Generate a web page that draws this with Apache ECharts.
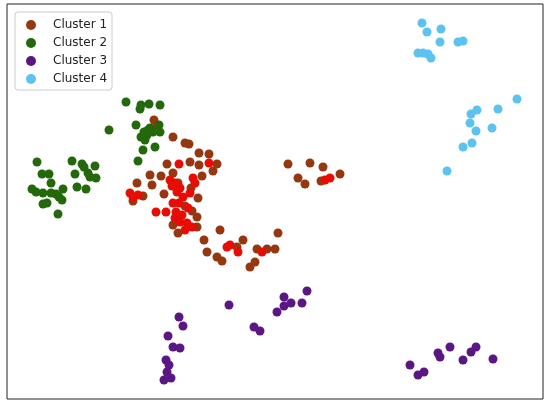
<!DOCTYPE html>
<html>
<head>
<meta charset="utf-8">
<script src="https://cdn.jsdelivr.net/npm/echarts@6/dist/echarts.min.js"></script>
<style>
  html, body { margin: 0; padding: 0; background: #fff; }
  #chart { width: 550px; height: 406px; }
</style>
</head>
<body>
<div id="chart"></div>
<script>
// values (x to the right, y downward)
var clusterNames = ['Cluster 1', 'Cluster 2', 'Cluster 3', 'Cluster 4'];

var cluster1Brown = [
  [173,137],[185,143],[189,144],[199,153],[209,154],[190,162],[199,165],[217,164],[213,171],[202,176],
  [167,164],[173,173],[150,175],[161,176],[178,183],[191,188],[137,183],[152,185],[143,196],[133,201],
  [164,194],[198,198],[185,206],[192,211],[197,217],[197,227],[173,225],[178,233],[220,230],[204,240],
  [207,252],[217,257],[222,261],[237,247],[243,240],[257,249],[267,249],[275,249],[278,233],[255,262],
  [250,267],[288,164],[310,163],[323,167],[298,178],[305,184],[321,181],[340,174],[154,120],[157,125]
];
var cluster1Red = [
  [209,163],[179,164],[170,180],[175,183],[180,188],[177,192],[193,178],[195,183],[190,193],[130,193],
  [133,197],[138,195],[173,203],[179,203],[188,208],[156,212],[166,212],[175,218],[180,222],[187,223],
  [192,227],[227,247],[230,245],[238,252],[262,252],[325,180],[330,178],[172,186],[183,197],[176,212],
  [182,215],[185,230]
];
var cluster2 = [
  [126,102],[141,105],[149,104],[160,105],[140,109],[109,130],[136,125],[144,132],[148,130],[153,132],
  [159,125],[147,135],[141,137],[160,132],[155,147],[143,150],[138,161],[150,128],[145,140],
  [37,162],[72,161],[82,164],[84,167],[95,166],[42,174],[49,174],[75,174],[88,173],[90,177],
  [96,178],[51,183],[77,187],[86,189],[32,189],[36,192],[43,193],[51,193],[63,189],[56,194],
  [59,197],[62,200],[43,204],[47,203],[58,214]
];
var cluster3 = [
  [307,291],[284,297],[284,306],[291,303],[302,303],[277,312],[229,305],[254,327],[260,331],[179,317],
  [183,326],[168,336],[173,347],[180,348],[166,360],[169,365],[167,372],[171,378],[164,380],
  [410,365],[418,375],[424,372],[438,353],[440,357],[450,347],[463,360],[471,352],[476,347],[493,359]
];
var cluster4 = [
  [422,23],[427,32],[441,29],[440,42],[458,42],[463,41],[418,53],[423,53],[428,54],[431,58],
  [517,99],[477,110],[471,114],[498,109],[470,123],[476,131],[492,128],[472,143],[463,147],[447,171]
];

var colors = ['#96380f', '#23690c', '#5a1784', '#5cc3ee'];
var redColor = '#e80c04';

var chart = echarts.init(document.getElementById('chart'));

function scatter(name, data, color) {
  return {
    name: name,
    type: 'scatter',
    data: data,
    symbolSize: 9,
    itemStyle: { color: color, opacity: 1 },
    emphasis: { disabled: true }
  };
}

var option = {
  animation: false,
  backgroundColor: '#fff',
  grid: {
    left: 7, top: 4, right: 7, bottom: 7,
    show: true,
    borderColor: '#222',
    borderWidth: 1
  },
  xAxis: {
    type: 'value', min: 7, max: 543,
    axisLine: { show: false }, axisTick: { show: false },
    axisLabel: { show: false }, splitLine: { show: false }
  },
  yAxis: {
    type: 'value', min: 4, max: 399, inverse: true,
    axisLine: { show: false }, axisTick: { show: false },
    axisLabel: { show: false }, splitLine: { show: false }
  },
  legend: {
    data: clusterNames,
    orient: 'vertical',
    left: 15,
    top: 12,
    icon: 'circle',
    itemWidth: 20,
    itemHeight: 10,
    itemGap: 4,
    padding: [6, 5, 4, 11],
    borderColor: '#cccccc',
    borderWidth: 1,
    borderRadius: 3,
    backgroundColor: 'rgba(255,255,255,0.8)',
    textStyle: {
      fontFamily: 'DejaVu Sans',
      fontSize: 12,
      lineHeight: 14,
      color: '#222',
      padding: [0, 0, 0, 7]
    }
  },
  series: [
    scatter(clusterNames[0], cluster1Brown, colors[0]),
    scatter(clusterNames[0], cluster1Red, redColor),
    scatter(clusterNames[1], cluster2, colors[1]),
    scatter(clusterNames[2], cluster3, colors[2]),
    scatter(clusterNames[3], cluster4, colors[3])
  ]
};

chart.setOption(option);
</script>
</body>
</html>
